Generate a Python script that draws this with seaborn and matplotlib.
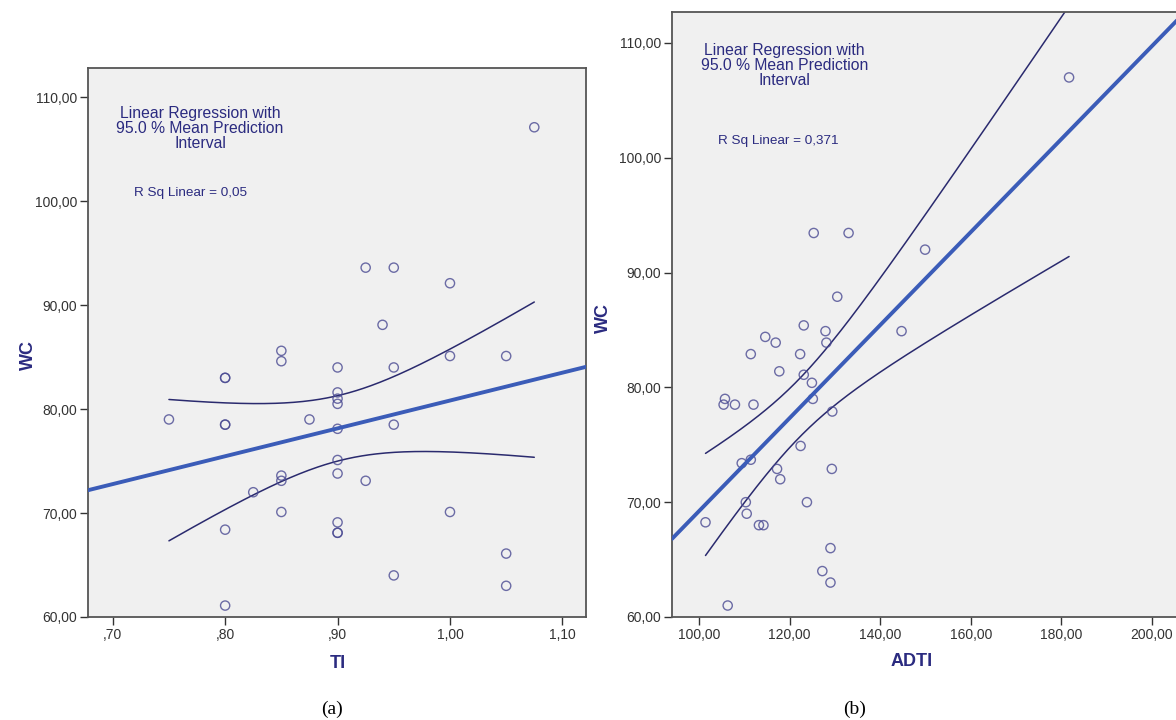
import numpy as np
import pandas as pd
import matplotlib
matplotlib.use("Agg")
import matplotlib.pyplot as plt
import seaborn as sns

# ---------------- data ----------------
ti = [0.75, 0.80, 0.80, 0.80, 0.80, 0.80, 0.80, 0.825,
      0.85, 0.85, 0.85, 0.85, 0.85, 0.875,
      0.90, 0.90, 0.90, 0.90, 0.90, 0.90, 0.90, 0.90, 0.90, 0.90,
      0.925, 0.925, 0.94, 0.95, 0.95, 0.95, 0.95,
      1.00, 1.00, 1.00, 1.05, 1.05, 1.05, 1.075]
wc_a = [79.0, 83.0, 83.0, 78.5, 78.5, 68.4, 61.1, 72.0,
        85.6, 84.6, 73.6, 73.1, 70.1, 79.0,
        84.0, 81.6, 81.0, 80.5, 78.1, 75.1, 73.8, 69.1, 68.1, 68.1,
        93.6, 73.1, 88.1, 93.6, 84.0, 78.5, 64.0,
        92.1, 85.1, 70.1, 85.1, 66.1, 63.0, 107.1]

adti = [123.1, 127.9, 114.6, 116.9, 128.1, 144.7, 111.4, 122.3, 117.7, 123.1,
        124.9, 105.7, 105.4, 107.9, 112.0, 125.1, 129.4, 122.4, 109.4, 111.4,
        117.2, 129.3, 117.9, 110.3, 123.8, 101.4, 110.5, 113.2, 114.2, 129.0,
        127.2, 129.0, 106.3, 125.3, 133.0, 149.9, 130.5, 181.7]
wc_b = [85.4, 84.9, 84.4, 83.9, 83.9, 84.9, 82.9, 82.9, 81.4, 81.1,
        80.4, 79.0, 78.5, 78.5, 78.5, 79.0, 77.9, 74.9, 73.4, 73.7,
        72.9, 72.9, 72.0, 70.0, 70.0, 68.25, 69.0, 68.0, 68.0, 66.0,
        64.0, 63.0, 61.0, 93.45, 93.45, 92.0, 87.9, 107.0]

yticks = [60, 70, 80, 90, 100, 110]
ytick_labels = ["60,00", "70,00", "80,00", "90,00", "100,00", "110,00"]
xticks_a = [0.70, 0.80, 0.90, 1.00, 1.10]
xtick_labels_a = [",70", ",80", ",90", "1,00", "1,10"]
xticks_b = [100, 120, 140, 160, 180, 200]
xtick_labels_b = ["100,00", "120,00", "140,00", "160,00", "180,00", "200,00"]

legend_title = "Linear Regression with\n95.0 % Mean Prediction\nInterval"
rsq_a = "R Sq Linear = 0,05"
rsq_b = "R Sq Linear = 0,371"

T_CRIT = 2.028  # t(0.975, df=36)

# ---------------- style ----------------
sns.set_theme(style="white")
plt.rcParams["font.family"] = ["Liberation Sans", "DejaVu Sans"]

NAVY = "#2B2B80"
PT_COL = "#4A4A92"
LINE_COL = "#3B5CB8"
CI_COL = "#2A2A6E"
FACE = "#F0F0F0"

fig = plt.figure(figsize=(11.76, 7.20), dpi=100)
W, H = 1176, 720


def px_axes(x0, y0, x1, y1):
    return fig.add_axes([x0 / W, 1 - y1 / H, (x1 - x0) / W, (y1 - y0) / H])


ax_a = px_axes(88, 68, 586, 617)
ax_b = px_axes(672, 12, 1180, 617)


def draw_panel(ax, x, y, xlim, ylim, xticks, xtl, xlabel, rsq, txt_pos, rsq_pos,
               xlab_pos, ylab_pos):
    ax.set_facecolor(FACE)
    ax.set_xlim(*xlim)
    ax.set_ylim(*ylim)
    df = pd.DataFrame({"x": x, "y": y})
    sns.regplot(data=df, x="x", y="y", ax=ax, ci=None, truncate=False,
                scatter_kws=dict(s=44, facecolors="none", edgecolors=PT_COL,
                                 linewidths=1.0, zorder=3),
                line_kws=dict(color=LINE_COL, lw=2.8, zorder=4))
    # analytic 95% mean prediction interval
    xa = np.asarray(x, float)
    ya = np.asarray(y, float)
    n = len(xa)
    b1, b0 = np.polyfit(xa, ya, 1)
    resid = ya - (b0 + b1 * xa)
    s = np.sqrt(np.sum(resid ** 2) / (n - 2))
    sxx = np.sum((xa - xa.mean()) ** 2)
    xs = np.linspace(xa.min(), xa.max(), 200)
    fit = b0 + b1 * xs
    half = T_CRIT * s * np.sqrt(1 / n + (xs - xa.mean()) ** 2 / sxx)
    ax.plot(xs, fit + half, color=CI_COL, lw=1.1, zorder=2)
    ax.plot(xs, fit - half, color=CI_COL, lw=1.1, zorder=2)

    ax.set_yticks(yticks)
    ax.set_yticklabels(ytick_labels)
    ax.set_xticks(xticks)
    ax.set_xticklabels(xtl)
    ax.tick_params(axis="both", which="both", direction="out", length=6,
                   width=1.0, color="#333333", labelsize=10,
                   labelcolor="#333333", left=True, bottom=True, pad=2)
    for sp in ax.spines.values():
        sp.set_color("#555555")
        sp.set_linewidth(1.3)
    ax.set_xlabel(xlabel, fontsize=13, fontweight="bold", color=NAVY)
    ax.set_ylabel("WC", fontsize=13, fontweight="bold", color=NAVY)
    ax.xaxis.set_label_coords(*xlab_pos)
    ax.yaxis.set_label_coords(*ylab_pos)
    ax.xaxis.label.set_verticalalignment("center")
    ax.yaxis.label.set_verticalalignment("center")
    ax.text(txt_pos[0], txt_pos[1], legend_title, transform=ax.transAxes,
            ha="center", va="center", multialignment="center", fontsize=11.3,
            color=NAVY, linespacing=1.0)
    ax.text(rsq_pos[0], rsq_pos[1], rsq, transform=ax.transAxes,
            ha="center", va="center", fontsize=9.7, color=NAVY)


draw_panel(ax_a, ti, wc_a, (0.678, 1.121), (60, 112.8), xticks_a, xtick_labels_a,
           "TI", rsq_a, (0.225, 0.889), (0.205, 0.772),
           (0.502, -0.084), (-0.12, 0.477))
draw_panel(ax_b, adti, wc_b, (94.0, 206.2), (60, 112.7), xticks_b, xtick_labels_b,
           "ADTI", rsq_b, (0.221, 0.912), (0.21, 0.786),
           (0.472, -0.073), (-0.134, 0.494))

fig.text(332 / W, 1 - 709 / H, "(a)", ha="center", va="center", fontsize=14,
         family=["Liberation Serif", "DejaVu Serif"], color="black")
fig.text(855 / W, 1 - 709 / H, "(b)", ha="center", va="center", fontsize=14,
         family=["Liberation Serif", "DejaVu Serif"], color="black")

fig.savefig("out.png", dpi=100, facecolor="white")
